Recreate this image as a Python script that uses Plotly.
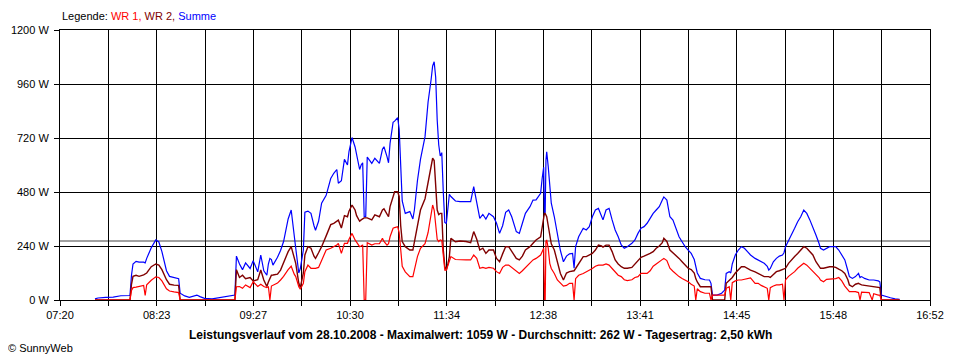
import plotly.graph_objects as go
import pandas as pd

DAY = "2008-10-28"

# time of day, WR 1 (red), WR 2 (dark red), Summe (blue) in W
times = [
    "07:43", "07:45", "07:50", "07:55", "08:00", "08:06", "08:07", "08:08", "08:10", "08:12",
    "08:15", "08:16", "08:17", "08:20", "08:23", "08:25", "08:27", "08:30", "08:32", "08:35",
    "08:38", "08:39", "08:42", "08:45", "08:48", "08:50", "08:52", "08:55", "09:00", "09:05",
    "09:10", "09:15", "09:16", "09:18", "09:20", "09:22", "09:25", "09:27", "09:30", "09:32",
    "09:34", "09:36", "09:37", "09:38", "09:39", "09:40", "09:43", "09:45", "09:47", "09:50",
    "09:52", "09:54", "09:55", "09:57", "09:58", "10:00", "10:01", "10:03", "10:05", "10:07",
    "10:08", "10:10", "10:12", "10:15", "10:18", "10:20", "10:22", "10:23", "10:25", "10:27",
    "10:29", "10:30", "10:32", "10:34", "10:35", "10:37", "10:38", "10:39", "10:40", "10:41",
    "10:42", "10:45", "10:47", "10:50", "10:52", "10:53", "10:55", "10:56", "10:57", "10:58",
    "10:59", "11:00", "11:02", "11:03", "11:04", "11:05", "11:07", "11:10", "11:12", "11:13",
    "11:15", "11:17", "11:20", "11:22", "11:24", "11:25", "11:26", "11:27", "11:28", "11:29",
    "11:30", "11:31", "11:32", "11:33", "11:34", "11:35", "11:36", "11:37", "11:40", "11:43",
    "11:45", "11:47", "11:50", "11:52", "11:54", "11:56", "11:58", "12:00", "12:02", "12:05",
    "12:07", "12:09", "12:11", "12:13", "12:15", "12:17", "12:20", "12:22", "12:24", "12:26",
    "12:29", "12:31", "12:33", "12:36", "12:37", "12:38", "12:38:30", "12:39", "12:39:30", "12:40",
    "12:41", "12:42", "12:43", "12:45", "12:47", "12:49", "12:51", "12:53", "12:55", "12:57",
    "12:58", "12:59", "13:01", "13:04", "13:06", "13:08", "13:10", "13:12", "13:14", "13:16",
    "13:17", "13:19", "13:21", "13:23", "13:25", "13:27", "13:29", "13:31", "13:33", "13:36",
    "13:38", "13:40", "13:42", "13:44", "13:46", "13:48", "13:50", "13:52", "13:54", "13:56",
    "13:57", "13:59", "14:01", "14:03", "14:05", "14:07", "14:09", "14:11", "14:13", "14:15",
    "14:17", "14:18", "14:19", "14:21", "14:24", "14:27", "14:28", "14:29", "14:32", "14:35",
    "14:37", "14:38", "14:40", "14:41", "14:42", "14:44", "14:46", "14:48", "14:50", "14:52",
    "14:54", "14:57", "14:59", "15:01", "15:03", "15:05", "15:06", "15:07", "15:09", "15:11",
    "15:13", "15:15", "15:16", "15:17", "15:19", "15:21", "15:23", "15:25", "15:27", "15:29",
    "15:31", "15:33", "15:35", "15:37", "15:39", "15:40", "15:42", "15:44", "15:46", "15:48",
    "15:50", "15:52", "15:54", "15:56", "15:58", "15:59", "16:01", "16:03", "16:05", "16:06",
    "16:07", "16:09", "16:12", "16:14", "16:15", "16:18", "16:19", "16:20", "16:23", "16:26",
    "16:29", "16:32",
]

wr1 = [
    0, 0, 0, 0, 0, 0, 42, 55, 57, 60,
    65, 20, 68, 88, 103, 100, 85, 50, 40, 36,
    33, 0, 0, 0, 0, 0, 0, 0, 0, 0,
    0, 0, 59, 60, 52, 67, 55, 81, 60, 70,
    60, 55, 60, 0, 62, 65, 75, 89, 105, 135,
    150, 115, 104, 59, 48, 74, 126, 155, 141, 141,
    141, 145, 178, 222, 230, 237, 244, 252, 207, 252,
    252, 270, 296, 267, 255, 237, 240, 245, 0, 0,
    255, 244, 250, 250, 274, 260, 244, 250, 281, 300,
    319, 322, 326, 300, 220, 150, 125, 104, 104, 130,
    193, 230, 250, 300, 385, 422, 400, 340, 270, 260,
    267, 265, 200, 133, 133, 150, 170, 193, 180, 178,
    178, 178, 178, 200, 185, 141, 145, 141, 145, 141,
    126, 118, 145, 155, 155, 145, 126, 118, 130, 145,
    163, 178, 185, 200, 215, 230, 0, 0, 260, 267,
    230, 163, 140, 118, 89, 74, 62, 65, 74, 74,
    0, 95, 110, 118, 125, 133, 140, 150, 155, 155,
    155, 160, 155, 140, 126, 110, 104, 90, 86, 90,
    100, 104, 118, 118, 118, 130, 150, 160, 170, 180,
    185, 175, 141, 128, 115, 104, 96, 90, 81, 70,
    62, 0, 50, 37, 30, 30, 0, 22, 22, 22,
    22, 52, 59, 0, 77, 85, 89, 89, 92, 95,
    98, 74, 74, 65, 60, 52, 0, 55, 62, 67,
    67, 70, 0, 89, 105, 115, 126, 141, 150, 163,
    155, 141, 126, 115, 100, 89, 81, 92, 92, 92,
    95, 100, 85, 62, 45, 37, 37, 37, 33, 0,
    35, 33, 33, 0, 28, 22, 22, 0, 0, 0,
    0, 0,
]

wr2 = [
    0, 0, 0, 0, 0, 0, 70, 105, 110, 105,
    112, 115, 120, 148, 160, 155, 135, 90, 70, 66,
    65, 0, 0, 0, 0, 0, 0, 0, 0, 0,
    0, 0, 135, 100, 110, 95, 100, 85, 90, 133,
    89, 60, 80, 100, 110, 111, 115, 133, 165, 215,
    237, 190, 163, 74, 55, 120, 200, 237, 230, 195,
    185, 210, 237, 285, 335, 341, 350, 355, 320, 375,
    370, 395, 422, 400, 375, 350, 356, 360, 365, 365,
    365, 356, 378, 370, 400, 405, 380, 370, 415, 440,
    460, 481, 481, 460, 330, 260, 237, 222, 222, 260,
    320, 400, 450, 520, 593, 630, 620, 530, 400, 380,
    385, 385, 222, 150, 133, 160, 193, 274, 259, 262,
    262, 260, 255, 304, 270, 222, 230, 207, 222, 222,
    185, 170, 205, 237, 237, 215, 185, 178, 195, 222,
    237, 252, 267, 281, 326, 378, 385, 385, 380, 370,
    330, 281, 250, 222, 163, 118, 89, 120, 126, 130,
    130, 140, 163, 193, 193, 200, 207, 222, 244, 240,
    235, 244, 244, 215, 178, 160, 148, 141, 141, 145,
    160, 178, 190, 195, 200, 207, 215, 230, 240, 255,
    274, 260, 222, 210, 200, 185, 170, 155, 141, 135,
    120, 95, 80, 59, 59, 59, 59, 0, 0, 0,
    0, 74, 89, 95, 100, 120, 133, 148, 148, 140,
    133, 125, 118, 110, 104, 104, 104, 100, 115, 126,
    130, 135, 138, 141, 163, 180, 193, 207, 222, 237,
    230, 215, 200, 170, 148, 141, 141, 145, 148, 148,
    145, 137, 130, 118, 90, 67, 59, 70, 74, 70,
    67, 65, 62, 60, 60, 59, 55, 0, 0, 0,
    0, 0,
]

summe = [
    5, 9, 12, 13, 19, 20, 110, 160, 172, 168,
    168, 165, 185, 232, 267, 258, 215, 130, 105, 100,
    95, 30, 18, 12, 17, 22, 15, 7, 5, 10,
    18, 22, 195, 160, 135, 165, 140, 175, 125, 200,
    130, 110, 160, 185, 180, 155, 190, 220, 260, 360,
    400, 300, 230, 120, 140, 222, 390, 395, 385, 330,
    310, 350, 430, 465, 540, 563, 580, 519, 530, 625,
    600, 660, 722, 680, 640, 580, 600, 610, 370, 370,
    635, 607, 630, 607, 670, 681, 637, 610, 696, 740,
    790, 795, 810, 760, 550, 440, 385, 393, 360, 400,
    530, 625, 726, 880, 980, 1040, 1059, 990, 800, 690,
    640, 655, 480, 345, 340, 420, 470, 460, 440, 437,
    437, 437, 437, 504, 430, 363, 380, 360, 385, 370,
    341, 296, 330, 390, 400, 370, 304, 296, 341, 385,
    415, 444, 445, 474, 540, 590, 385, 390, 620, 659,
    593, 519, 430, 370, 300, 220, 170, 195, 205, 207,
    141, 237, 281, 319, 311, 326, 370, 400, 407, 378,
    356, 400, 407, 356, 311, 281, 245, 230, 237, 252,
    267, 296, 319, 326, 341, 363, 385, 400, 415, 444,
    458, 444, 370, 355, 319, 281, 259, 237, 222, 207,
    180, 140, 120, 96, 90, 89, 74, 22, 22, 30,
    44, 118, 126, 120, 160, 200, 222, 237, 230, 215,
    200, 185, 178, 170, 163, 150, 133, 140, 170, 185,
    195, 200, 210, 237, 267, 296, 319, 348, 370, 400,
    385, 356, 326, 289, 252, 230, 222, 230, 237, 237,
    237, 222, 200, 178, 130, 104, 96, 104, 118, 100,
    104, 96, 89, 89, 89, 85, 81, 22, 15, 10,
    5, 3,
]

x_tick_labels = ["07:20", "08:23", "09:27", "10:30", "11:34",
                 "12:38", "13:41", "14:45", "15:48", "16:52"]
y_tick_values = [0, 240, 480, 720, 960, 1200]
y_tick_labels = ["0 W", "240 W", "480 W", "720 W", "960 W", "1200 W"]
average_w = 262
title_text = ("Leistungsverlauf vom 28.10.2008 - Maximalwert: 1059 W - "
              "Durchschnitt: 262 W - Tagesertrag: 2,50 kWh")


def ts(s):
    if len(s) == 5:
        s = s + ":00"
    return f"{DAY} {s}"


x = [ts(s) for s in times]

start = pd.Timestamp(ts(x_tick_labels[0]))
end = pd.Timestamp(ts(x_tick_labels[-1]))
n_int = 2 * (len(x_tick_labels) - 1)
tick_vals = [(start + (end - start) * k / n_int).strftime("%Y-%m-%d %H:%M:%S.%f")
             for k in range(n_int + 1)]
tick_text = [x_tick_labels[k // 2] if k % 2 == 0 else "" for k in range(n_int + 1)]

FONT = "Liberation Sans, Arial, sans-serif"

fig = go.Figure()
fig.add_trace(go.Scatter(x=x, y=summe, mode="lines", name="Summe",
                         line=dict(color="#0000FF", width=1.2)))
fig.add_trace(go.Scatter(x=x, y=wr2, mode="lines", name="WR 2",
                         line=dict(color="#800000", width=1.4)))
fig.add_trace(go.Scatter(x=x, y=wr1, mode="lines", name="WR 1",
                         line=dict(color="#FF0000", width=1.2)))

fig.add_shape(type="line", xref="paper", x0=0, x1=1, yref="y",
              y0=average_w, y1=average_w, line=dict(color="#808080", width=1.5),
              layer="below")

# the page adds an 8 px body margin, so the figure is sized/offset to compensate
fig.update_layout(
    width=952, height=352,
    margin=dict(l=52, r=30, t=22, b=60),
    paper_bgcolor="white", plot_bgcolor="white",
    showlegend=False,
    font=dict(family=FONT, size=11, color="black"),
    xaxis=dict(
        type="date",
        range=[start.strftime("%Y-%m-%d %H:%M:%S"), end.strftime("%Y-%m-%d %H:%M:%S")],
        tickmode="array", tickvals=tick_vals, ticktext=tick_text,
        showgrid=True, gridcolor="black", gridwidth=1,
        showline=True, linecolor="black", linewidth=1, mirror=True,
        ticks="outside", ticklen=5, tickcolor="black", tickwidth=1,
        tickfont=dict(family=FONT, size=11, color="black"),
        zeroline=False, fixedrange=True, automargin=False,
    ),
    yaxis=dict(
        range=[0, 1200],
        tickmode="array", tickvals=y_tick_values, ticktext=y_tick_labels,
        showgrid=True, gridcolor="black", gridwidth=1,
        showline=True, linecolor="black", linewidth=1, mirror=True,
        ticks="outside", ticklen=5, tickcolor="black", tickwidth=1,
        ticklabelstandoff=3,
        tickfont=dict(family=FONT, size=11, color="black"),
        zeroline=False, fixedrange=True, automargin=False,
    ),
)

fig.add_annotation(
    xref="paper", yref="paper", x=0.0, y=1 + 13.5 / 270, xanchor="left", yanchor="middle",
    showarrow=False, font=dict(family=FONT, size=11, color="black"),
    text=("Legende: <span style='color:#FF0000'>WR 1,</span> "
          "<span style='color:#800000'>WR 2,</span> "
          "<span style='color:#0000FF'>Summe</span>"),
)
fig.add_annotation(
    xref="paper", yref="paper", x=(480 - 60) / 870, y=-35 / 270, xanchor="center",
    yanchor="middle", showarrow=False,
    font=dict(family=FONT, size=12, color="black"),
    text="<b>" + title_text + "</b>",
)
fig.add_annotation(
    xref="paper", yref="paper", x=(6 - 60) / 870, y=-48 / 270, xanchor="left",
    yanchor="middle", showarrow=False,
    font=dict(family=FONT, size=11, color="black"),
    text="© SunnyWeb",
)

fig.write_html("out.html")
